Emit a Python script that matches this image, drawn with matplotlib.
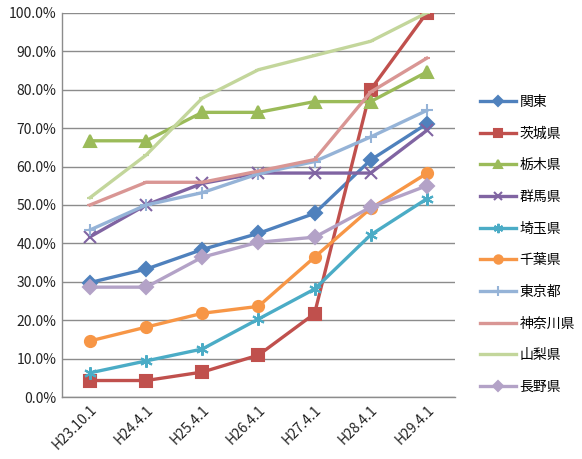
"""Line chart: share by prefecture, H23.10.1 - H29.4.1"""

import matplotlib
matplotlib.use('Agg')
import matplotlib.pyplot as plt
import numpy as np

plt.rcParams['font.family'] = ['Noto Sans CJK JP', 'DejaVu Sans']

dates = ['H23.10.1', 'H24.4.1', 'H25.4.1', 'H26.4.1', 'H27.4.1', 'H28.4.1', 'H29.4.1']

kanto = [29.8, 33.3, 38.4, 42.6, 47.8, 61.7, 71.1]
ibaraki = [4.3, 4.3, 6.5, 10.9, 21.7, 80.0, 100.0]
tochigi = [66.7, 66.7, 74.1, 74.1, 76.9, 76.9, 84.6]
gunma = [41.7, 50.0, 55.6, 58.3, 58.3, 58.3, 69.4]
saitama = [6.3, 9.4, 12.5, 20.3, 28.1, 42.2, 51.6]
chiba = [14.6, 18.2, 21.8, 23.6, 36.4, 49.1, 58.2]
tokyo = [43.5, 50.0, 53.2, 58.1, 61.3, 67.7, 74.6]
kanagawa = [50.0, 55.9, 55.9, 58.8, 61.8, 79.4, 88.2]
yamanashi = [51.9, 63.0, 77.8, 85.2, 88.9, 92.6, 100.0]
nagano = [28.6, 28.6, 36.4, 40.3, 41.6, 49.4, 55.0]

series = [
    ('関東', kanto, '#4F81BD', 'D', 7),
    ('茨城県', ibaraki, '#C0504D', 's', 8),
    ('栃木県', tochigi, '#9BBB59', '^', 8),
    ('群馬県', gunma, '#8064A2', 'x', 8),
    ('埼玉県', saitama, '#4BACC6', (6, 2, 0), 9),
    ('千葉県', chiba, '#F79646', 'o', 8),
    ('東京都', tokyo, '#95B3D7', '+', 9),
    ('神奈川県', kanagawa, '#D99694', '_', 4),
    ('山梨県', yamanashi, '#C3D69B', '_', 4),
    ('長野県', nagano, '#B3A2C7', 'D', 7),
]

fig = plt.figure(figsize=(5.82, 4.59), dpi=100)
ax = fig.add_axes([0.1065, 0.135, 0.675, 0.837])

x = np.arange(len(dates))
for name, vals, color, marker, ms in series:
    ax.plot(x, vals, color=color, lw=2.4, marker=marker, markersize=ms,
            markeredgewidth=1.5, label=name)

ax.set_xlim(-0.5, len(dates) - 0.5)
ax.set_ylim(0, 100)
ax.set_yticks(np.arange(0, 101, 10))
ax.set_yticklabels(['%.1f%%' % v for v in np.arange(0, 101, 10)], fontsize=10,
                   color='#222222')
ax.set_xticks(x)
ax.set_xticklabels(dates, rotation=45, ha='right', rotation_mode='anchor',
                   fontsize=10, color='#222222')
ax.tick_params(length=0, pad=4)
ax.yaxis.grid(True, color='#8c8c8c', lw=1)
ax.set_axisbelow(True)
for s in ['top', 'right']:
    ax.spines[s].set_visible(False)
for s in ['left', 'bottom']:
    ax.spines[s].set_color('#8c8c8c')
    ax.spines[s].set_linewidth(1)

leg = fig.legend(loc='upper left', bbox_to_anchor=(0.815, 0.805), frameon=False,
                 fontsize=10, handlelength=2.6, handletextpad=0.25,
                 labelspacing=1.27, borderaxespad=0, markerscale=0.75)

fig.savefig('out.png', dpi=100)
